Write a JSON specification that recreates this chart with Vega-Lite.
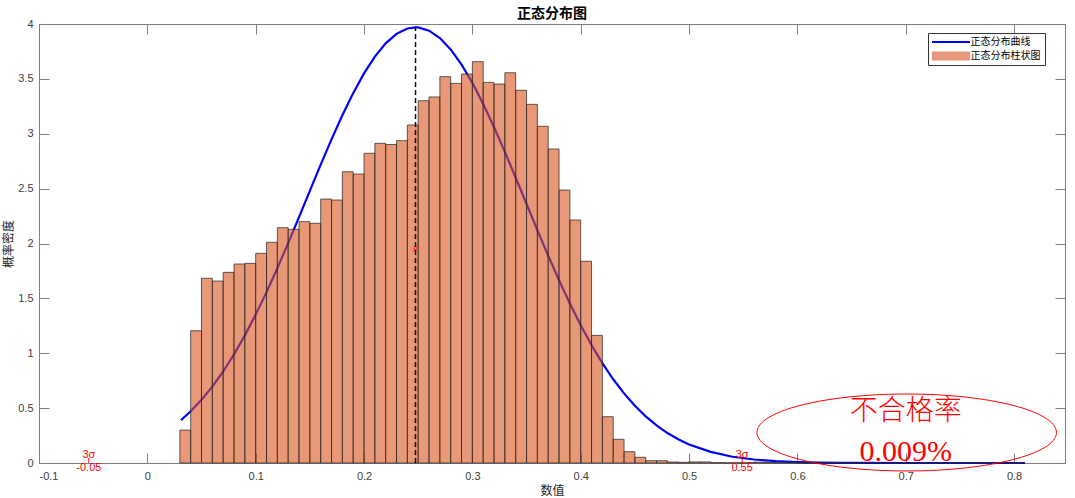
{
  "$schema": "https://vega.github.io/schema/vega-lite/v6.json",
  "autosize": {"type": "none"},
  "padding": {"left": 39, "top": 24, "right": 10, "bottom": 35},
  "width": 1026,
  "height": 439,
  "background": "#ffffff",
  "title": {"text": "正态分布图", "fontSize": 14, "fontWeight": "bold", "font": "Noto Sans CJK SC", "color": "#000000", "offset": 4, "dy": 7},
  "config": {
    "view": {"stroke": "#808080", "strokeWidth": 1},
    "axis": {
      "grid": false,
      "domainColor": "#808080",
      "tickColor": "#808080",
      "labelColor": "#404040",
      "labelFont": "Liberation Sans",
      "labelFontSize": 11,
      "titleFont": "Noto Sans CJK SC",
      "titleFontSize": 12,
      "titleFontWeight": "normal",
      "titleColor": "#262626",
      "tickSize": -10,
      "tickWidth": 1
    },
    "legend": {
      "title": null, "orient": "none", "legendX": 889, "legendY": 9, "padding": 4, "strokeColor": "#333333", "fillColor": "#ffffff",
      "symbolSize": 100, "symbolStrokeWidth": 0, "symbolOpacity": 1, "labelOffset": 28.5, "labelFontSize": 10,
      "labelFont": "Noto Sans CJK SC", "labelColor": "#000000", "rowPadding": 4
    }
  },
  "datasets": {
    "bars": [
      {"x": 0.03, "x2": 0.04, "y": 0.300},
      {"x": 0.04, "x2": 0.05, "y": 1.205},
      {"x": 0.05, "x2": 0.06, "y": 1.683},
      {"x": 0.06, "x2": 0.07, "y": 1.658},
      {"x": 0.07, "x2": 0.08, "y": 1.737},
      {"x": 0.08, "x2": 0.09, "y": 1.813},
      {"x": 0.09, "x2": 0.10, "y": 1.819},
      {"x": 0.10, "x2": 0.11, "y": 1.910},
      {"x": 0.11, "x2": 0.12, "y": 2.011},
      {"x": 0.12, "x2": 0.13, "y": 2.144},
      {"x": 0.13, "x2": 0.14, "y": 2.129},
      {"x": 0.14, "x2": 0.15, "y": 2.199},
      {"x": 0.15, "x2": 0.16, "y": 2.184},
      {"x": 0.16, "x2": 0.17, "y": 2.405},
      {"x": 0.17, "x2": 0.18, "y": 2.396},
      {"x": 0.18, "x2": 0.19, "y": 2.654},
      {"x": 0.19, "x2": 0.20, "y": 2.633},
      {"x": 0.20, "x2": 0.21, "y": 2.822},
      {"x": 0.21, "x2": 0.22, "y": 2.913},
      {"x": 0.22, "x2": 0.23, "y": 2.902},
      {"x": 0.23, "x2": 0.24, "y": 2.937},
      {"x": 0.24, "x2": 0.25, "y": 3.080},
      {"x": 0.25, "x2": 0.26, "y": 3.301},
      {"x": 0.26, "x2": 0.27, "y": 3.335},
      {"x": 0.27, "x2": 0.28, "y": 3.520},
      {"x": 0.28, "x2": 0.29, "y": 3.459},
      {"x": 0.29, "x2": 0.30, "y": 3.544},
      {"x": 0.30, "x2": 0.31, "y": 3.657},
      {"x": 0.31, "x2": 0.32, "y": 3.468},
      {"x": 0.32, "x2": 0.33, "y": 3.453},
      {"x": 0.33, "x2": 0.34, "y": 3.556},
      {"x": 0.34, "x2": 0.35, "y": 3.396},
      {"x": 0.35, "x2": 0.36, "y": 3.268},
      {"x": 0.36, "x2": 0.37, "y": 3.068},
      {"x": 0.37, "x2": 0.38, "y": 2.861},
      {"x": 0.38, "x2": 0.39, "y": 2.487},
      {"x": 0.39, "x2": 0.40, "y": 2.214},
      {"x": 0.40, "x2": 0.41, "y": 1.838},
      {"x": 0.41, "x2": 0.42, "y": 1.163},
      {"x": 0.42, "x2": 0.43, "y": 0.422},
      {"x": 0.43, "x2": 0.44, "y": 0.216},
      {"x": 0.44, "x2": 0.45, "y": 0.103},
      {"x": 0.45, "x2": 0.46, "y": 0.052},
      {"x": 0.46, "x2": 0.47, "y": 0.021},
      {"x": 0.47, "x2": 0.48, "y": 0.021},
      {"x": 0.48, "x2": 0.49, "y": 0.009},
      {"x": 0.49, "x2": 0.50, "y": 0.006},
      {"x": 0.50, "x2": 0.51, "y": 0.010},
      {"x": 0.51, "x2": 0.52, "y": 0.010},
      {"x": 0.52, "x2": 0.53, "y": 0.003},
      {"x": 0.53, "x2": 0.54, "y": 0.002},
      {"x": 0.54, "x2": 0.55, "y": 0.002},
      {"x": 0.55, "x2": 0.56, "y": 0.003},
      {"x": 0.56, "x2": 0.57, "y": 0.008},
      {"x": 0.57, "x2": 0.58, "y": 0.004},
      {"x": 0.58, "x2": 0.59, "y": 0.002},
      {"x": 0.59, "x2": 0.60, "y": 0.003},
      {"x": 0.60, "x2": 0.61, "y": 0.002},
      {"x": 0.61, "x2": 0.62, "y": 0.002},
      {"x": 0.62, "x2": 0.63, "y": 0.001},
      {"x": 0.63, "x2": 0.64, "y": 0.002},
      {"x": 0.64, "x2": 0.65, "y": 0.001},
      {"x": 0.65, "x2": 0.66, "y": 0.001},
      {"x": 0.66, "x2": 0.67, "y": 0.002},
      {"x": 0.67, "x2": 0.68, "y": 0.001},
      {"x": 0.68, "x2": 0.69, "y": 0.001},
      {"x": 0.69, "x2": 0.70, "y": 0.001},
      {"x": 0.70, "x2": 0.71, "y": 0.001},
      {"x": 0.71, "x2": 0.72, "y": 0.001},
      {"x": 0.72, "x2": 0.73, "y": 0.001},
      {"x": 0.73, "x2": 0.74, "y": 0.001},
      {"x": 0.74, "x2": 0.75, "y": 0.001},
      {"x": 0.75, "x2": 0.76, "y": 0.001},
      {"x": 0.76, "x2": 0.77, "y": 0.001},
      {"x": 0.77, "x2": 0.78, "y": 0.001},
      {"x": 0.78, "x2": 0.79, "y": 0.001},
      {"x": 0.79, "x2": 0.80, "y": 0.001},
      {"x": 0.80, "x2": 0.81, "y": 0.001}
    ],
    "curve": [
      {"x": 0.031, "y": 0.390},
      {"x": 0.04, "y": 0.471},
      {"x": 0.05, "y": 0.576},
      {"x": 0.06, "y": 0.696},
      {"x": 0.07, "y": 0.834},
      {"x": 0.08, "y": 0.990},
      {"x": 0.09, "y": 1.163},
      {"x": 0.10, "y": 1.352},
      {"x": 0.11, "y": 1.557},
      {"x": 0.12, "y": 1.775},
      {"x": 0.13, "y": 2.004},
      {"x": 0.14, "y": 2.241},
      {"x": 0.15, "y": 2.480},
      {"x": 0.16, "y": 2.718},
      {"x": 0.17, "y": 2.949},
      {"x": 0.18, "y": 3.168},
      {"x": 0.19, "y": 3.370},
      {"x": 0.20, "y": 3.550},
      {"x": 0.21, "y": 3.703},
      {"x": 0.22, "y": 3.824},
      {"x": 0.23, "y": 3.910},
      {"x": 0.24, "y": 3.959},
      {"x": 0.2475, "y": 3.970},
      {"x": 0.25, "y": 3.969},
      {"x": 0.26, "y": 3.939},
      {"x": 0.27, "y": 3.872},
      {"x": 0.28, "y": 3.768},
      {"x": 0.29, "y": 3.631},
      {"x": 0.30, "y": 3.464},
      {"x": 0.31, "y": 3.272},
      {"x": 0.32, "y": 3.060},
      {"x": 0.33, "y": 2.835},
      {"x": 0.34, "y": 2.599},
      {"x": 0.35, "y": 2.360},
      {"x": 0.36, "y": 2.122},
      {"x": 0.37, "y": 1.889},
      {"x": 0.38, "y": 1.665},
      {"x": 0.39, "y": 1.453},
      {"x": 0.40, "y": 1.255},
      {"x": 0.41, "y": 1.074},
      {"x": 0.42, "y": 0.910},
      {"x": 0.43, "y": 0.763},
      {"x": 0.44, "y": 0.634},
      {"x": 0.45, "y": 0.521},
      {"x": 0.46, "y": 0.425},
      {"x": 0.47, "y": 0.342},
      {"x": 0.48, "y": 0.273},
      {"x": 0.49, "y": 0.216},
      {"x": 0.50, "y": 0.169},
      {"x": 0.52, "y": 0.101},
      {"x": 0.54, "y": 0.057},
      {"x": 0.56, "y": 0.032},
      {"x": 0.58, "y": 0.017},
      {"x": 0.60, "y": 0.0085},
      {"x": 0.62, "y": 0.0041},
      {"x": 0.64, "y": 0.0019},
      {"x": 0.66, "y": 0.0009},
      {"x": 0.70, "y": 0.0002},
      {"x": 0.75, "y": 0.0},
      {"x": 0.81, "y": 0.0}
    ],
    "legendItems": [
      {"x": 0.2475, "y": 0, "series": "正态分布曲线"},
      {"x": 0.2475, "y": 0, "series": "正态分布柱状图"}
    ]
  },
  "resolve": {"axis": {"x": "independent", "y": "independent"}},
  "layer": [
    {
      "data": {"name": "curve"},
      "mark": {"type": "line", "strokeWidth": 2.2, "color": "#0000ff"},
      "encoding": {
        "x": {"field": "x", "type": "quantitative", "scale": {"domain": [-0.1, 0.847], "nice": false, "zero": false},
          "axis": {"orient": "bottom", "values": [-0.1, 0, 0.1, 0.2, 0.3, 0.4, 0.5, 0.6, 0.7, 0.8], "format": "~f", "labelExpr": "replace(datum.label, '−', '-')", "labelPadding": 17, "title": "数值", "titlePadding": 4}},
        "y": {"field": "y", "type": "quantitative", "scale": {"domain": [0, 4], "nice": false, "zero": false},
          "axis": {"orient": "left", "values": [0, 0.5, 1, 1.5, 2, 2.5, 3, 3.5, 4], "format": "~f", "labelPadding": 16, "title": "概率密度", "titlePadding": 2}}
      }
    },
    {
      "data": {"name": "bars"},
      "mark": {"type": "bar", "fill": "#d9531a", "fillOpacity": 0.6, "stroke": "#262626", "strokeWidth": 0.8, "strokeOpacity": 0.9},
      "encoding": {
        "x": {"field": "x", "type": "quantitative", "scale": {"domain": [-0.1, 0.847], "nice": false, "zero": false}, "axis": null},
        "x2": {"field": "x2"},
        "y": {"field": "y", "type": "quantitative", "scale": {"domain": [0, 4], "nice": false, "zero": false}, "axis": null},
        "y2": {"datum": 0}
      }
    },
    {
      "data": {"name": "legendItems"},
      "mark": {"type": "point", "filled": true, "opacity": 0, "size": 1},
      "encoding": {
        "x": {"field": "x", "type": "quantitative", "scale": {"domain": [-0.1, 0.847], "nice": false, "zero": false}, "axis": null},
        "y": {"field": "y", "type": "quantitative", "scale": {"domain": [0, 4], "nice": false, "zero": false}, "axis": null},
        "color": {"field": "series", "type": "nominal",
          "scale": {"domain": ["正态分布曲线", "正态分布柱状图"], "range": ["#0000ff", "#e8987a"]},
          "legend": {"title": null}},
        "shape": {"field": "series", "type": "nominal",
          "scale": {"domain": ["正态分布曲线", "正态分布柱状图"], "range": ["M-1,-0.2H6.6V0.2H-1Z", "M-1,-0.9H6.6V0.9H-1Z"]},
          "legend": {"title": null}}
      }
    },
    {
      "data": {"values": [{"x": 0.2475, "y": 0, "y2": 3.97}]},
      "mark": {"type": "rule", "color": "#000000", "strokeWidth": 1.5, "strokeDash": [5, 3]},
      "encoding": {
        "x": {"field": "x", "type": "quantitative", "scale": {"domain": [-0.1, 0.847], "nice": false, "zero": false},
          "axis": {"orient": "top", "values": [-0.1, 0, 0.1, 0.2, 0.3, 0.4, 0.5, 0.6, 0.7, 0.8], "labels": false, "title": null}},
        "y": {"field": "y", "type": "quantitative", "scale": {"domain": [0, 4], "nice": false, "zero": false},
          "axis": {"orient": "right", "values": [0, 0.5, 1, 1.5, 2, 2.5, 3, 3.5, 4], "labels": false, "title": null}},
        "y2": {"field": "y2"}
      }
    },
    {
      "data": {"values": [{"x": -0.054, "y": 0, "y2": 0.045}, {"x": 0.549, "y": 0, "y2": 0.045}]},
      "mark": {"type": "rule", "color": "#ff0000", "strokeWidth": 1},
      "encoding": {
        "x": {"field": "x", "type": "quantitative", "scale": {"domain": [-0.1, 0.847], "nice": false, "zero": false}, "axis": null},
        "y": {"field": "y", "type": "quantitative", "scale": {"domain": [0, 4], "nice": false, "zero": false}, "axis": null},
        "y2": {"field": "y2"}
      }
    },
    {
      "data": {"values": [
        {"x": -0.054, "y": 0.073, "label": "3σ"},
        {"x": -0.054, "y": -0.048, "label": "-0.05"},
        {"x": 0.549, "y": 0.073, "label": "3σ"},
        {"x": 0.549, "y": -0.048, "label": "0.55"}
      ]},
      "mark": {"type": "text", "color": "#ff0000", "font": "Liberation Sans", "fontSize": 11, "align": "center", "baseline": "middle"},
      "encoding": {
        "x": {"field": "x", "type": "quantitative", "scale": {"domain": [-0.1, 0.847], "nice": false, "zero": false}, "axis": null},
        "y": {"field": "y", "type": "quantitative", "scale": {"domain": [0, 4], "nice": false, "zero": false}, "axis": null},
        "text": {"field": "label"}
      }
    },
    {
      "data": {"values": [{"x": 0.2475, "y": 1.96, "label": "μ"}]},
      "mark": {"type": "text", "color": "#ff0000", "font": "Liberation Sans", "fontSize": 8, "align": "center", "baseline": "middle"},
      "encoding": {
        "x": {"field": "x", "type": "quantitative", "scale": {"domain": [-0.1, 0.847], "nice": false, "zero": false}, "axis": null},
        "y": {"field": "y", "type": "quantitative", "scale": {"domain": [0, 4], "nice": false, "zero": false}, "axis": null},
        "text": {"field": "label"}
      }
    },
    {
      "data": {"values": [{"x": 0.7009, "y": 0.278}]},
      "mark": {"type": "point", "shape": "M-1,0A1,0.257,0,1,0,1,0A1,0.257,0,1,0,-1,0Z", "size": 89700, "filled": false, "stroke": "#ff0000", "strokeWidth": 1, "opacity": 1, "strokeOpacity": 1},
      "encoding": {
        "x": {"field": "x", "type": "quantitative", "scale": {"domain": [-0.1, 0.847], "nice": false, "zero": false}, "axis": null},
        "y": {"field": "y", "type": "quantitative", "scale": {"domain": [0, 4], "nice": false, "zero": false}, "axis": null}
      }
    },
    {
      "data": {"values": [{"x": 0.70, "y": 0.465, "label": "不合格率"}]},
      "mark": {"type": "text", "color": "#ff0000", "font": "Noto Sans CJK SC", "fontSize": 28, "fontWeight": 300, "align": "center", "baseline": "middle"},
      "encoding": {
        "x": {"field": "x", "type": "quantitative", "scale": {"domain": [-0.1, 0.847], "nice": false, "zero": false}, "axis": null},
        "y": {"field": "y", "type": "quantitative", "scale": {"domain": [0, 4], "nice": false, "zero": false}, "axis": null},
        "text": {"field": "label"}
      }
    },
    {
      "data": {"values": [{"x": 0.70, "y": 0.10, "label": "0.009%"}]},
      "mark": {"type": "text", "color": "#ff0000", "font": "Liberation Serif", "fontSize": 30, "align": "center", "baseline": "middle"},
      "encoding": {
        "x": {"field": "x", "type": "quantitative", "scale": {"domain": [-0.1, 0.847], "nice": false, "zero": false}, "axis": null},
        "y": {"field": "y", "type": "quantitative", "scale": {"domain": [0, 4], "nice": false, "zero": false}, "axis": null},
        "text": {"field": "label"}
      }
    }
  ]
}
